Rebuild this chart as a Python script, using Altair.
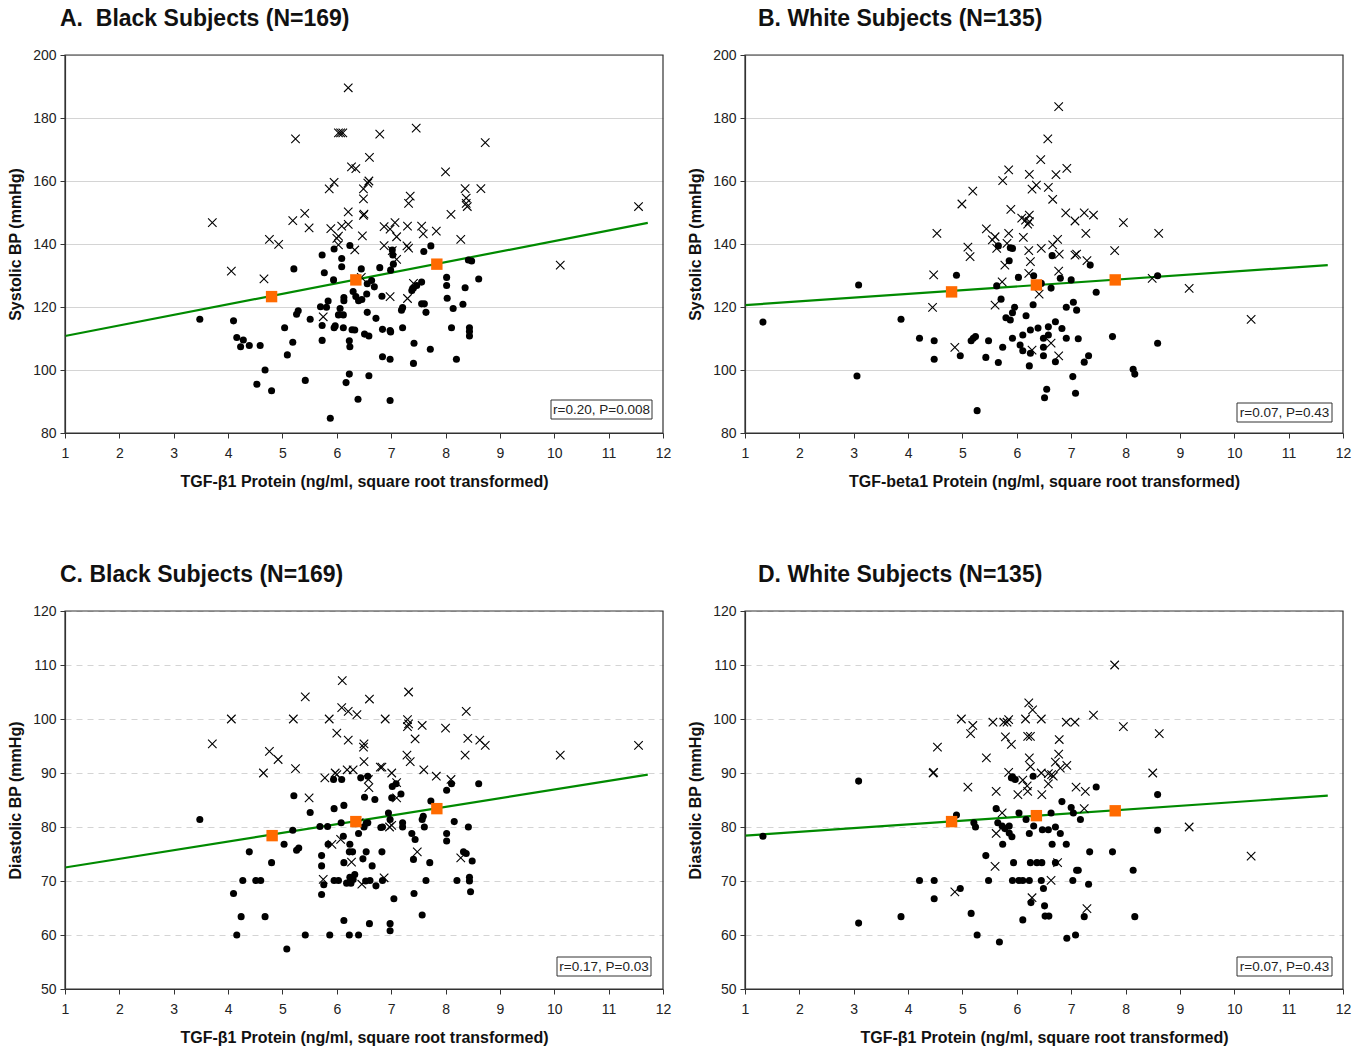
import altair as alt
import pandas as pd

FONT = "Liberation Sans"

# ---------------- Panel A: Black subjects, systolic ----------------
A_circ_x = [3.48, 4.10, 4.16, 4.28, 4.23, 4.39, 4.59, 4.68, 4.53, 4.80, 5.09, 5.04, 5.19, 5.26, 5.29, 5.21, 5.42, 5.51,
            5.73, 5.95, 5.77, 5.94, 6.09, 6.09, 6.24, 5.70, 5.81, 5.84, 5.73, 5.73, 5.97, 5.95, 6.06, 6.03, 6.12, 6.13,
            6.13, 6.12, 6.30, 6.35, 6.40, 6.46, 6.55, 6.45, 6.56, 6.64, 6.69, 6.56, 6.72, 6.79, 6.83, 6.28, 6.33, 6.51,
            6.59, 6.23, 6.24, 6.84, 6.98, 6.84, 6.98, 6.23, 6.17, 6.59, 6.39, 5.88, 6.98, 7.73, 7.60, 7.02, 7.03, 7.04,
            6.99, 8.42, 8.48, 8.61, 8.02, 8.02, 8.36, 8.03, 8.32, 8.14, 7.56, 7.47, 7.41, 7.38, 7.56, 7.61, 7.64, 7.19,
            7.21, 6.99, 7.21, 8.11, 8.44, 8.44, 8.44, 7.42, 7.72, 7.41, 8.20]
A_circ_y = [116.1, 115.6, 110.3, 109.5, 107.4, 107.8, 107.8, 100.0, 95.5, 93.4, 104.8, 113.4, 108.8, 117.7, 118.8, 132.1,
            96.7, 116.1, 136.5, 138.4, 130.9, 128.6, 135.4, 132.8, 139.5, 120.1, 119.9, 121.9, 114.1, 109.4, 114.0, 113.4,
            119.5, 117.5, 117.5, 123.0, 122.0, 113.4, 124.9, 123.3, 122.0, 122.4, 124.1, 132.1, 127.4, 128.4, 126.4, 118.3,
            116.4, 132.5, 123.4, 112.8, 112.7, 111.4, 110.8, 109.3, 107.4, 112.9, 112.5, 104.2, 103.4, 98.7, 96.0, 98.2,
            90.7, 84.7, 90.3, 139.4, 137.6, 138.1, 136.5, 133.6, 131.7, 134.9, 134.6, 128.9, 129.4, 126.8, 126.1, 122.8,
            120.9, 119.5, 127.9, 126.8, 126.0, 125.2, 121.0, 121.0, 118.3, 119.0, 119.8, 112.1, 113.4, 113.4, 113.4, 112.2,
            110.8, 108.5, 106.6, 102.1, 103.4]
A_cross_x = [6.21, 5.24, 6.03, 6.07, 6.11, 6.79, 6.60, 6.27, 6.35, 6.59, 6.57, 5.95, 5.86, 6.49, 6.49, 6.50, 6.49, 3.71,
             5.19, 5.41, 5.49, 6.21, 5.89, 6.09, 6.21, 6.03, 6.00, 6.47, 6.87, 6.87, 4.76, 4.93, 6.03, 6.33, 4.06, 4.66,
             6.45, 5.75, 7.46, 8.73, 8.00, 8.36, 8.65, 7.35, 7.32, 8.38, 8.40, 8.38, 8.10, 11.55, 7.07, 7.30, 7.56, 6.98,
             7.10, 7.59, 7.83, 8.28, 7.29, 7.32, 7.02, 7.10, 10.11, 6.98, 7.30, 7.41]
A_cross_y = [189.6, 173.4, 175.3, 175.3, 175.3, 174.9, 167.5, 164.5, 163.9, 160.0, 159.3, 159.6, 157.5, 157.5, 154.3,
             149.5, 149.1, 146.8, 147.4, 149.7, 145.1, 150.2, 144.9, 145.7, 146.2, 142.5, 141.8, 142.6, 145.5, 139.5,
             141.5, 139.9, 139.7, 138.1, 131.4, 128.9, 129.4, 116.9, 176.8, 172.2, 162.9, 157.6, 157.6, 155.2, 152.9,
             154.6, 151.9, 152.9, 149.4, 151.9, 146.8, 145.7, 145.7, 144.7, 142.3, 143.2, 144.1, 141.5, 139.4, 138.7,
             137.9, 135.1, 133.3, 123.3, 122.7, 127.5]
A_sq_x = [4.80, 6.35, 7.84]
A_sq_y = [123.3, 128.6, 133.6]
A_line_x = [1.0, 11.72]
A_line_y = [110.8, 146.7]

# ---------------- Panel B: White subjects, systolic ----------------
B_circ_x = [3.87, 4.21, 4.48, 4.48, 4.89, 4.96, 5.16, 5.20, 5.24, 5.43, 5.27, 5.48, 5.66, 5.63, 5.66, 5.88, 5.92, 5.86,
            5.71, 5.80, 5.88, 5.92, 5.96, 5.74, 5.92, 6.03, 6.17, 6.31, 6.45, 6.30, 6.63, 6.11, 6.06, 6.11, 6.25, 6.39,
            6.23, 6.25, 6.49, 6.49, 6.49, 6.58, 6.58, 6.71, 6.71, 6.83, 6.91, 6.91, 7.04, 7.10, 6.80, 7.00, 6.65, 7.03,
            7.08, 6.55, 6.51, 7.35, 8.59, 7.46, 7.13, 7.76, 8.59, 7.32, 7.24, 8.14, 8.17, 1.33, 3.09, 3.06]
B_circ_y = [116.1, 110.1, 109.3, 103.4, 130.1, 104.5, 109.3, 110.1, 110.6, 104.0, 87.1, 109.3, 102.4, 126.7, 139.4,
            138.8, 138.6, 134.7, 122.5, 116.6, 115.9, 118.2, 119.9, 107.2, 110.1, 129.4, 117.2, 129.9, 127.5, 120.7,
            126.0, 111.1, 107.9, 106.1, 112.7, 113.3, 101.3, 105.3, 110.1, 107.2, 104.5, 111.1, 113.7, 115.3, 102.6,
            113.2, 110.1, 119.9, 121.5, 119.0, 129.1, 128.6, 136.3, 97.9, 92.6, 93.9, 91.2, 133.3, 129.9, 124.7, 109.9,
            110.6, 108.5, 104.5, 102.5, 100.2, 98.7, 115.2, 127.0, 98.1]
B_cross_x = [6.77, 6.57, 6.44, 6.92, 6.72, 6.23, 5.85, 5.74, 6.36, 6.28, 6.58, 6.66, 5.19, 4.99, 5.89, 6.90, 7.07, 6.09,
             6.16, 6.23, 6.20, 6.23, 4.53, 5.44, 5.60, 5.55, 5.63, 5.85, 5.82, 6.12, 6.75, 6.66, 6.78, 7.07, 5.10, 5.14,
             6.22, 6.45, 6.25, 5.78, 6.77, 6.22, 5.73, 4.47, 6.41, 4.45, 5.60, 4.86, 6.28, 6.63, 6.77, 7.24, 7.41, 7.96,
             7.27, 8.61, 7.10, 7.29, 7.80, 8.49, 9.17, 10.31]
B_cross_y = [183.6, 173.4, 166.8, 164.0, 162.0, 162.1, 163.5, 160.1, 158.7, 157.4, 158.0, 154.2, 156.8, 152.7, 151.0,
             149.9, 147.3, 148.2, 147.6, 149.2, 146.3, 147.1, 143.4, 144.8, 142.3, 141.3, 138.6, 143.4, 140.2, 142.1,
             141.5, 139.7, 136.8, 136.5, 139.0, 136.0, 137.9, 138.6, 134.4, 133.3, 131.4, 130.7, 128.0, 130.2, 124.1,
             119.9, 120.6, 107.2, 106.3, 108.5, 104.5, 149.9, 149.2, 146.8, 143.4, 143.4, 136.8, 134.7, 137.9, 129.1,
             125.9, 116.1]
B_sq_x = [4.80, 6.36, 7.81]
B_sq_y = [124.8, 127.0, 128.6]
B_line_x = [1.0, 11.72]
B_line_y = [120.6, 133.3]

# ---------------- Panel C: Black subjects, diastolic ----------------
C_circ_x = [3.48, 4.39, 4.80, 4.27, 4.51, 4.60, 4.10, 4.24, 4.68, 4.16, 5.08, 5.42, 5.87, 6.23, 6.40, 6.13, 6.60, 5.03,
            5.26, 5.30, 5.19, 5.21, 5.51, 5.69, 5.83, 5.95, 6.13, 6.08, 5.84, 5.72, 5.72, 5.76, 5.72, 5.95, 6.03, 6.12,
            6.24, 6.29, 6.23, 6.13, 6.24, 6.30, 6.33, 6.18, 6.26, 6.40, 6.50, 6.54, 6.57, 6.44, 6.57, 6.51, 6.70, 5.94,
            6.09, 6.83, 6.48, 6.54, 6.65, 6.53, 6.61, 6.72, 6.84, 6.81, 7.02, 7.01, 7.18, 7.09, 6.95, 6.98, 6.84, 7.21,
            7.21, 7.05, 6.98, 6.98, 7.38, 7.44, 7.57, 7.59, 7.61, 7.73, 7.41, 7.71, 7.64, 7.42, 7.57, 8.02, 8.11, 8.61,
            8.16, 8.42, 8.02, 8.02, 8.33, 8.38, 8.49, 8.21, 8.44, 8.44, 8.46]
C_circ_y = [81.4, 75.4, 73.4, 70.1, 70.1, 70.1, 67.7, 63.4, 63.4, 60.0, 57.4, 60.0, 60.0, 60.0, 60.0, 62.7, 62.1, 76.8,
            75.7, 76.1, 79.4, 85.8, 82.7, 80.1, 80.1, 83.4, 84.0, 80.8, 76.8, 74.7, 72.8, 69.3, 67.5, 70.1, 70.1, 78.3,
            76.8, 75.4, 75.4, 73.4, 70.7, 70.3, 71.2, 69.6, 69.6, 78.8, 80.0, 80.7, 80.8, 89.1, 89.4, 85.5, 85.1, 88.8,
            88.8, 75.4, 74.1, 75.4, 72.8, 70.0, 70.1, 69.1, 70.1, 79.9, 87.5, 85.4, 86.1, 88.0, 82.6, 81.4, 80.0, 80.8,
            80.0, 66.7, 62.1, 60.8, 78.8, 77.7, 81.4, 82.0, 80.0, 84.8, 74.0, 73.4, 70.1, 67.7, 63.7, 86.8, 88.0, 88.0,
            81.0, 80.0, 78.8, 77.4, 75.4, 75.1, 73.7, 70.1, 70.7, 70.0, 68.0]
C_cross_x = [6.10, 5.42, 6.60, 6.09, 6.21, 6.37, 4.06, 5.20, 5.86, 6.89, 3.71, 6.00, 6.21, 6.50, 6.49, 4.76, 4.92, 4.65,
             5.24, 6.50, 6.80, 5.78, 5.97, 6.00, 6.19, 6.30, 6.58, 6.59, 5.49, 6.41, 5.91, 6.07, 6.27, 5.75, 6.46, 6.87,
             7.32, 8.38, 7.30, 7.32, 7.30, 7.57, 8.00, 7.44, 8.41, 8.63, 8.73, 7.29, 7.35, 8.36, 10.11, 11.55, 6.83, 7.01,
             7.10, 7.60, 7.83, 8.10, 7.10, 7.01, 6.97, 7.48, 8.28]
C_cross_y = [107.1, 104.1, 103.7, 102.1, 101.4, 100.8, 100.0, 100.0, 100.0, 100.0, 95.4, 97.4, 96.1, 95.4, 94.8, 94.0,
             92.5, 90.0, 90.8, 92.1, 91.1, 89.1, 90.0, 89.7, 90.6, 90.6, 88.8, 87.3, 85.4, 80.8, 76.8, 77.7, 73.5, 70.3,
             69.4, 70.6, 105.0, 101.4, 99.9, 99.1, 98.6, 98.8, 98.3, 96.3, 96.4, 96.1, 95.1, 93.3, 92.1, 93.3, 93.3, 95.1,
             91.1, 90.0, 88.2, 90.6, 89.4, 88.8, 85.4, 80.3, 80.0, 75.4, 74.3]
C_sq_x = [4.81, 6.35, 7.84]
C_sq_y = [78.4, 81.0, 83.4]
C_line_x = [1.0, 11.72]
C_line_y = [72.5, 89.7]

# ---------------- Panel D: White subjects, diastolic ----------------
D_circ_x = [1.33, 3.09, 3.09, 3.87, 4.21, 4.48, 4.48, 4.89, 4.96, 5.21, 5.24, 5.16, 5.27, 5.43, 5.48, 5.62, 5.65, 5.73,
            5.78, 5.86, 5.86, 5.91, 5.74, 5.68, 5.90, 5.97, 5.92, 6.30, 6.04, 6.17, 6.31, 6.23, 6.47, 6.58, 6.71, 6.80,
            6.63, 6.83, 7.00, 7.04, 6.65, 6.91, 5.94, 6.25, 6.37, 6.46, 6.71, 7.10, 5.92, 6.04, 6.11, 6.23, 6.45, 7.03,
            6.49, 6.26, 6.51, 6.52, 6.59, 6.11, 6.92, 7.08, 7.46, 8.59, 7.17, 8.59, 7.34, 7.76, 7.13, 8.14, 7.32, 7.24,
            8.17]
D_circ_y = [78.3, 88.5, 62.2, 63.4, 70.1, 70.1, 66.7, 82.2, 68.6, 80.8, 80.0, 64.0, 60.0, 74.7, 70.1, 83.4, 80.8, 80.2,
            79.7, 80.2, 78.9, 78.2, 76.8, 58.7, 89.1, 88.8, 89.3, 89.4, 82.6, 81.4, 80.2, 78.8, 79.5, 79.5, 80.0, 78.8,
            82.6, 84.7, 83.6, 82.6, 76.8, 76.8, 73.4, 73.4, 73.4, 73.4, 73.4, 72.0, 70.1, 70.1, 70.1, 70.1, 70.1, 70.1,
            68.6, 66.0, 65.4, 63.5, 63.5, 62.8, 59.4, 60.0, 87.4, 86.0, 81.4, 79.4, 75.4, 75.4, 72.0, 72.0, 69.4, 63.4,
            63.4]
D_cross_x = [6.22, 6.29, 6.45, 6.16, 4.98, 5.19, 5.15, 5.56, 5.76, 5.85, 5.82, 6.91, 7.07, 5.79, 5.90, 6.20, 6.25, 6.78,
             4.54, 5.44, 6.23, 6.25, 6.77, 6.71, 6.92, 6.80, 4.46, 4.47, 5.85, 6.45, 6.58, 6.67, 6.64, 6.11, 6.19, 6.20,
             6.58, 5.10, 5.62, 6.02, 6.46, 7.09, 5.73, 5.62, 5.60, 6.75, 6.63, 4.86, 6.28, 7.80, 7.41, 7.96, 8.62, 8.50,
             7.26, 7.24, 9.17, 10.31, 7.29]
D_cross_y = [103.0, 101.7, 100.0, 100.0, 100.0, 98.8, 97.3, 99.4, 99.4, 99.9, 99.4, 99.4, 99.4, 96.7, 95.3, 96.8, 96.8,
             96.2, 94.8, 92.8, 92.8, 91.2, 93.5, 92.0, 91.4, 90.9, 90.0, 90.1, 90.1, 90.0, 89.9, 89.4, 89.7, 88.7, 87.6,
             86.6, 88.0, 87.4, 86.6, 86.0, 86.0, 87.4, 82.6, 78.8, 72.7, 73.4, 70.1, 68.0, 66.9, 110.0, 100.7, 98.6, 97.3,
             90.0, 86.6, 83.4, 80.0, 74.6, 64.9]
D_sq_x = [4.80, 6.36, 7.81]
D_sq_y = [81.0, 82.1, 83.0]
D_line_x = [1.0, 11.72]
D_line_y = [78.4, 85.8]

X_TICKS = list(range(1, 13))
SBP_TICKS = [80, 100, 120, 140, 160, 180, 200]
DBP_TICKS = [50, 60, 70, 80, 90, 100, 110, 120]

W, H = 598, 378
X_PATH = "M-1,-1L1,1M-1,1L1,-1"


def panel(title, tdx, cx, cy, xx, xy, sx, sy, lx, ly, ydom, yticks, ytitle, xtitle, rtext, box, dashed):
    xs = alt.Scale(domain=[1, 12], nice=False, zero=False)
    ys = alt.Scale(domain=ydom, nice=False, zero=False)
    xax = alt.Axis(values=X_TICKS, title=xtitle, grid=False, format="d", labelFlush=False,
                   labelPadding=8, titlePadding=13)
    yax_kw = dict(values=yticks, title=ytitle, grid=True, gridColor="#d4d4d4", format="d",
                  labelFlush=False, labelPadding=4, titlePadding=9)
    if dashed:
        yax_kw["gridDash"] = [6, 5]
    yax = alt.Axis(**yax_kw)
    X = alt.X("x:Q", scale=xs, axis=xax)
    Y = alt.Y("y:Q", scale=ys, axis=yax)

    circ = alt.Chart(pd.DataFrame({"x": cx, "y": cy})).mark_point(
        shape="circle", filled=True, color="black", size=50, opacity=1).encode(x=X, y=Y)
    cross = alt.Chart(pd.DataFrame({"x": xx, "y": xy})).mark_point(
        shape=X_PATH, filled=False, color="black", size=72, strokeWidth=1.1, opacity=1).encode(x=X, y=Y)
    line = alt.Chart(pd.DataFrame({"x": lx, "y": ly})).mark_line(
        color="#008a00", strokeWidth=2.2).encode(x=X, y=Y)
    sq = alt.Chart(pd.DataFrame({"x": sx, "y": sy})).mark_point(
        shape="square", filled=True, color="#ff6a00", size=130, opacity=1).encode(x=X, y=Y)

    bl, br, bt, bb = box
    one = pd.DataFrame({"t": [rtext]})
    rect = alt.Chart(one).mark_rect(
        fill="white", stroke="#333333", strokeWidth=1).encode(
        x=alt.value(W - bl), x2=alt.value(W - br), y=alt.value(H - bt), y2=alt.value(H - bb))
    txt = alt.Chart(one).mark_text(
        font=FONT, fontSize=13.5, color="#222222", align="center", baseline="middle").encode(
        x=alt.value(W - (bl + br) / 2), y=alt.value(H - (bt + bb) / 2 + 0.5), text="t:N")
    frame = alt.Chart(one).mark_rect(
        fill=None, filled=False, stroke="#333333", strokeWidth=1.2).encode(
        x=alt.value(0), x2=alt.value(W), y=alt.value(0), y2=alt.value(H))

    return alt.layer(line, circ, cross, sq, rect, txt, frame).properties(
        width=W, height=H,
        title=alt.TitleParams(title, anchor="start", frame="group", dx=tdx, fontSize=23,
                              font=FONT, fontWeight="bold", color="#111111", offset=17))


XT1 = "TGF-\u03b21 Protein (ng/ml, square root transformed)"
XT2 = "TGF-beta1 Protein (ng/ml, square root transformed)"

pA = panel("A.\u00a0 Black Subjects (N=169)", -5, A_circ_x, A_circ_y, A_cross_x, A_cross_y, A_sq_x, A_sq_y,
           A_line_x, A_line_y, [80, 200], SBP_TICKS, "Systolic BP (mmHg)", XT1, "r=0.20, P=0.008",
           (112, 11, 33, 14), False)
pB = panel("B. White Subjects (N=135)", 13, B_circ_x, B_circ_y, B_cross_x, B_cross_y, B_sq_x, B_sq_y,
           B_line_x, B_line_y, [80, 200], SBP_TICKS, "Systolic BP (mmHg)", XT2, "r=0.07, P=0.43",
           (106, 11, 30, 11), False)
pC = panel("C. Black Subjects (N=169)", -5, C_circ_x, C_circ_y, C_cross_x, C_cross_y, C_sq_x, C_sq_y,
           C_line_x, C_line_y, [50, 120], DBP_TICKS, "Diastolic BP (mmHg)", XT1, "r=0.17, P=0.03",
           (106, 12, 32, 13), True)
pD = panel("D. White Subjects (N=135)", 13, D_circ_x, D_circ_y, D_cross_x, D_cross_y, D_sq_x, D_sq_y,
           D_line_x, D_line_y, [50, 120], DBP_TICKS, "Diastolic BP (mmHg)", XT1, "r=0.07, P=0.43",
           (106, 11, 32, 13), True)

chart = alt.vconcat(
    alt.hconcat(pA, pB, spacing=16),
    alt.hconcat(pC, pD, spacing=16),
    spacing=75,
).properties(
    padding={"left": 7, "top": 8, "right": 5, "bottom": 5},
    background="white",
).configure_view(
    stroke=None
).configure_axis(
    labelFont=FONT, labelFontSize=14, labelColor="#222222",
    titleFont=FONT, titleFontSize=16, titleFontWeight="bold", titleColor="#111111",
    domainColor="#333333", tickColor="#333333", tickSize=5, domainWidth=1.2,
)

chart.save("out.html", embed_options={"renderer": "svg", "actions": False})
